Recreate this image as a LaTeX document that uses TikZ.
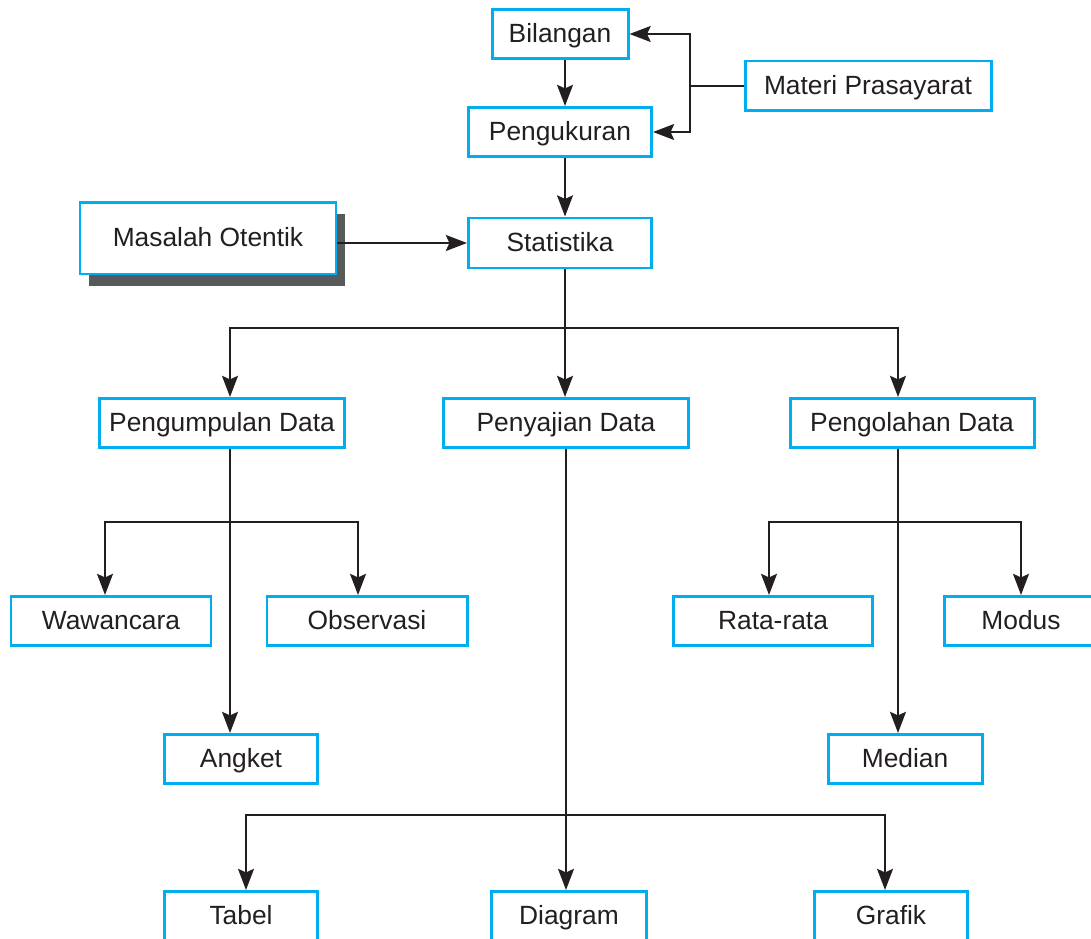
\documentclass[tikz,border=0pt]{standalone}
\usepackage{fontspec}
\setmainfont{Liberation Sans}
\usetikzlibrary{arrows.meta,calc,shadows}
\definecolor{kotak}{RGB}{0,174,239}
\definecolor{garis}{RGB}{35,31,32}
\definecolor{bayang}{RGB}{88,89,91}
\tikzset{
	kotak/.style={draw=kotak, line width=1.7pt, fill=white, inner sep=0pt,
		minimum height=0.98cm, text height=12pt, text depth=2pt,
		text=garis, font=\fontsize{15}{18}\selectfont},
	lebar/.style={minimum width=#1*0.02cm},
	panah/.style={-{Stealth[length=12pt,width=9pt,inset=2pt]}, line width=1.5pt, draw=garis},
	garis/.style={line width=1.5pt, draw=garis}
}
\begin{document}
\begin{tikzpicture}[x=0.02cm, y=-0.02cm]
		\useasboundingbox (0,0) rectangle (1091,939);
		\clip (0,0) rectangle (1091,939);
		% kotak-kotak
		\node[kotak, lebar=136] (bil) at (560,34) {Bilangan};
		\node[kotak, lebar=183] (ukur) at (560,132) {Pengukuran};
		\node[kotak, lebar=246, minimum height=1cm] (mat) at (868,86) {Materi Prasayarat};
		\node[kotak, lebar=183, minimum height=1cm] (stat) at (560,243) {Statistika};
		\node[kotak, lebar=256, minimum height=1.44cm,
			drop shadow={shadow xshift=0.18cm, shadow yshift=-0.24cm, fill=bayang, opacity=1}]
			(mas) at (208,238) {Masalah Otentik};
		\node[kotak, lebar=245] (kumpul) at (222,423) {Pengumpulan Data};
		\node[kotak, lebar=245] (saji) at (566,423) {Penyajian Data};
		\node[kotak, lebar=244] (olah) at (912,423) {Pengolahan Data};
		\node[kotak, lebar=200] (waw) at (111,621) {Wawancara};
		\node[kotak, lebar=200] (obs) at (367,621) {Observasi};
		\node[kotak, lebar=153] (ang) at (241,759) {Angket};
		\node[kotak, lebar=199] (rata) at (773,621) {Rata-rata};
		\node[kotak, lebar=153] (mod) at (1021,621) {Modus};
		\node[kotak, lebar=154] (med) at (905,759) {Median};
		\node[kotak, lebar=153] (tab) at (241,916) {Tabel};
		\node[kotak, lebar=155] (dia) at (569,916) {Diagram};
		\node[kotak, lebar=153] (gra) at (891,916) {Grafik};
		% titik cabang
		\coordinate (cm) at (690,86);
		\coordinate (cs) at (565,328);
		\coordinate (ck) at (230,522);
		\coordinate (cj) at (566,815);
		\coordinate (co) at (898,522);
		% panah bagian atas
		\draw[panah] ($(bil.south)+(5,0)$) -- ($(ukur.north)+(5,0)$);
		\draw[panah] ($(ukur.south)+(5,0)$) -- ($(stat.north)+(5,0)$);
		\draw[garis] (mat.west) -- (cm);
		\draw[panah] (cm) |- (bil.east);
		\draw[panah] (cm) |- (ukur.east);
		\draw[panah] (mas.east |- stat.west) -- (stat.west);
		% statistika ke tiga cabang
		\draw[garis] (stat.south -| cs) -- (cs);
		\draw[panah] (cs) -- (saji.north -| cs);
		\draw[panah] (cs) -| ($(kumpul.north)+(8,0)$);
		\draw[panah] (cs) -| ($(olah.north)+(-14,0)$);
		% pengumpulan data
		\draw[panah] (kumpul.south -| ck) -- (ang.north -| ck);
		\draw[panah] (ck) -| ($(waw.north)+(-6,0)$);
		\draw[panah] (ck) -| ($(obs.north)+(-9,0)$);
		% penyajian data
		\draw[panah] (saji.south -| cj) -- (dia.north -| cj);
		\draw[panah] (cj) -| ($(tab.north)+(5,0)$);
		\draw[panah] (cj) -| ($(gra.north)+(-6,0)$);
		% pengolahan data
		\draw[panah] (olah.south -| co) -- (med.north -| co);
		\draw[panah] (co) -| ($(rata.north)+(-4,0)$);
		\draw[panah] (co) -| (mod.north);
\end{tikzpicture}
\end{document}
